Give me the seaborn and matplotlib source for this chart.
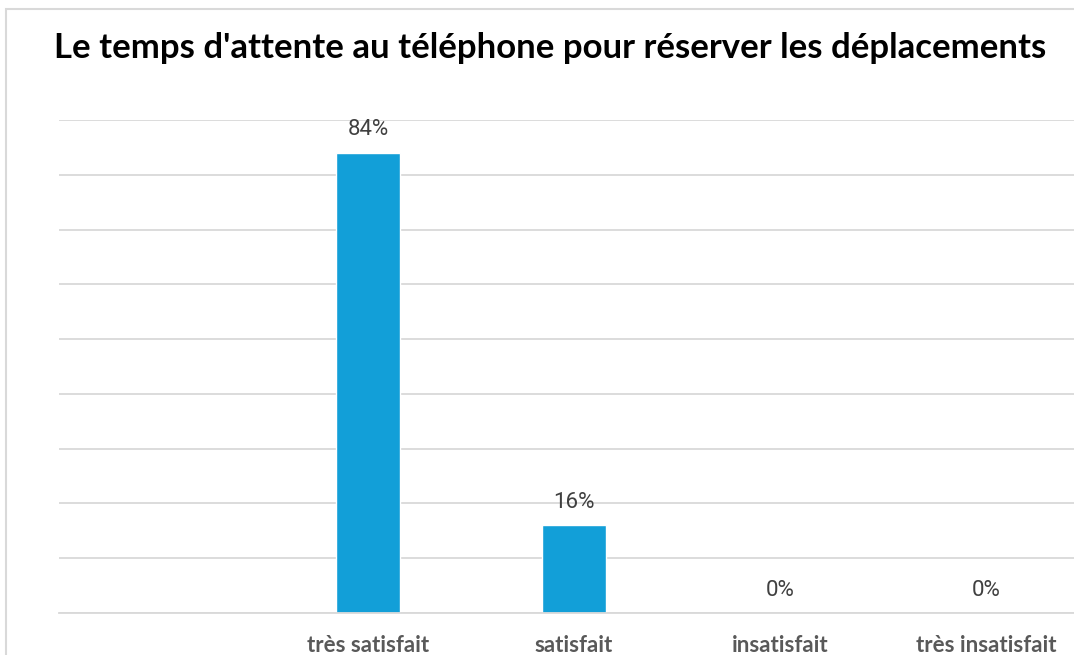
import numpy as np
import pandas as pd
import matplotlib
matplotlib.use("Agg")
import matplotlib.pyplot as plt
from matplotlib.patches import Rectangle
import seaborn as sns

categories = ["", "très satisfait", "satisfait", "insatisfait", "très insatisfait"]
values = [np.nan, 0.84, 0.16, 0.0, 0.0]
title = "Le temps d'attente au téléphone pour réserver les déplacements"

df = pd.DataFrame({"cat": categories, "val": values})

sns.set_style("white")
plt.rcParams['font.family'] = ['Lato', 'DejaVu Sans']

fig = plt.figure(figsize=(10.74, 6.55), dpi=100)
fig.patch.set_facecolor("white")
# chart frame (partly cropped like the reference)
fig.patches.append(Rectangle((6 / 1074, -0.1), 1.2, 1 - 9 / 655 + 0.1,
                             transform=fig.transFigure, fill=False,
                             edgecolor="#d9d9d9", linewidth=1.5))

ax = fig.add_axes([59 / 1074, 42 / 655, 1030 / 1074, 493 / 655])
sns.barplot(data=df, x="cat", y="val", color="#129FD8", width=0.31,
            saturation=1, ax=ax)
ax.set_ylim(0, 0.9)
ax.set_yticks(np.arange(0, 0.91, 0.1))
ax.yaxis.grid(True, color="#d9d9d9", linewidth=1.3)
ax.set_axisbelow(True)
ax.tick_params(axis="y", left=False, labelleft=False)
ax.tick_params(axis="x", bottom=False, pad=12)
for s in ["top", "right", "left"]:
    ax.spines[s].set_visible(False)
ax.spines["bottom"].set_color("#d9d9d9")
ax.spines["bottom"].set_linewidth(1.3)
ax.set_xlabel("")
ax.set_ylabel("")
for lab in ax.get_xticklabels():
    lab.set_fontweight("bold")
    lab.set_color("#595959")
    lab.set_fontsize(16)

for i, v in enumerate(values):
    if np.isnan(v):
        continue
    ax.annotate(f"{v:.0%}", (i, v), xytext=(0, 9), textcoords="offset points",
                ha="center", va="bottom", fontsize=16, color="#404040",
                family=["Roboto", "DejaVu Sans"])

fig.text(0.512, 0.927, title, ha="center", va="center", fontsize=25,
         fontweight="bold", color="black")

fig.savefig("out.png", dpi=100, facecolor="white")
